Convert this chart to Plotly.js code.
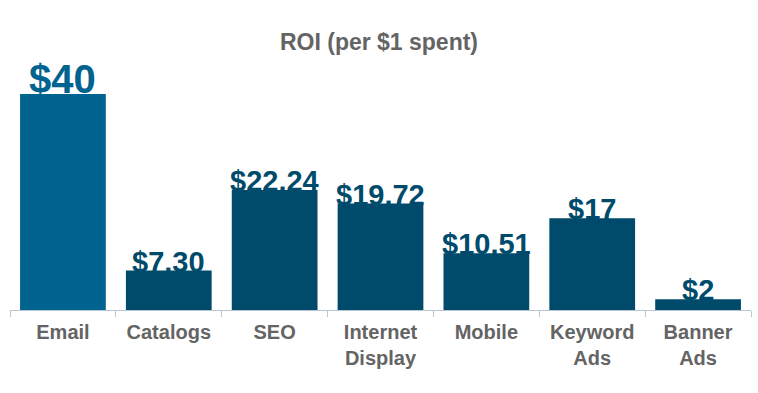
<!DOCTYPE html>
<html>
<head>
<meta charset="utf-8">
<script src="https://cdn.plot.ly/plotly-3.0.1.min.js"></script>
<style>html,body{margin:0;padding:0;background:#fff;}#chart{width:758px;height:393px;}</style>
</head>
<body>
<div id="chart"></div>
<script>
const categories = ["Email", "Catalogs", "SEO", "Internet<br>Display", "Mobile", "Keyword<br>Ads", "Banner<br>Ads"];
const roiValues = [40, 7.30, 22.24, 19.72, 10.51, 17, 2];
const valueLabels = ["$40", "$7.30", "$22.24", "$19.72", "$10.51", "$17", "$2"];
const barColors = ["#01638F", "#004B6B", "#004B6B", "#004B6B", "#004B6B", "#004B6B", "#004B6B"];
const labelSizes = [40, 29, 29, 29, 29, 29, 29];

const font = "Liberation Sans, Arial, sans-serif";

const annotations = categories.map((c, i) => ({
  x: c, y: roiValues[i], xref: "x", yref: "y",
  text: valueLabels[i], showarrow: false,
  yanchor: "bottom", yshift: -9,
  font: {family: font, size: labelSizes[i], color: barColors[i], weight: "bold"}
}));

const trace = {
  type: "bar",
  x: categories,
  y: roiValues,
  marker: {color: barColors, line: {width: 0}},
  hoverinfo: "none"
};

const layout = {
  width: 758, height: 393,
  margin: {l: 10, r: 7, t: 94, b: 83},
  paper_bgcolor: "#fff", plot_bgcolor: "#fff",
  bargap: 0.19,
  showlegend: false,
  title: {
    text: "ROI (per $1 spent)",
    font: {family: font, size: 23, color: "#646464", weight: "bold"},
    x: 0.5, xanchor: "center",
    y: 1 - 42/393, yref: "container", yanchor: "middle"
  },
  xaxis: {
    type: "category",
    range: [-0.5, 6.5],
    showline: true, linecolor: "#B9C5D1", linewidth: 1,
    ticks: "outside", tickson: "boundaries", ticklen: 6, tickcolor: "#B9C5D1", tickwidth: 1,
    ticklabelstandoff: 4,
    tickfont: {family: font, size: 20, color: "#646464", weight: "bold"},
    showgrid: false, zeroline: false, fixedrange: true
  },
  yaxis: {
    range: [0, 40],
    visible: false, showgrid: false, zeroline: false, fixedrange: true
  },
  annotations: annotations
};

Plotly.newPlot("chart", [trace], layout, {displayModeBar: false, staticPlot: true});
</script>
</body>
</html>
